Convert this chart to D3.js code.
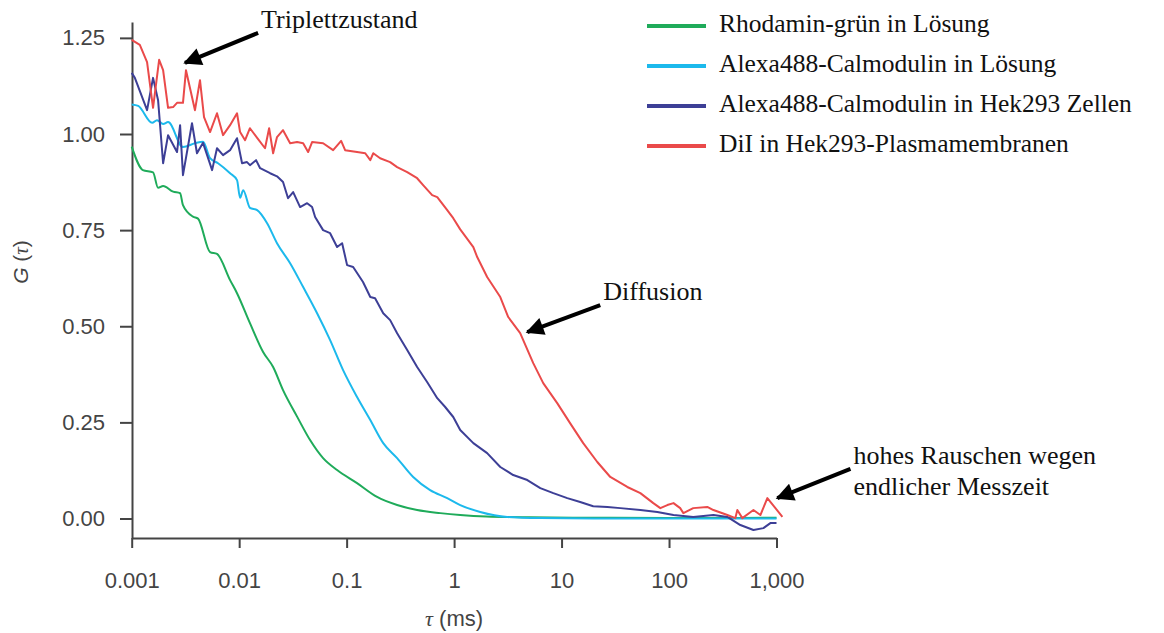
<!DOCTYPE html>
<html>
<head>
<meta charset="utf-8">
<script src="https://cdn.jsdelivr.net/npm/d3@7"></script>
<style>
  body { margin: 0; background: #fff; }
  svg { display: block; }
</style>
</head>
<body>
<svg id="chart" width="1164" height="633"></svg>
<script>
// Werte (tau in ms, G(tau))
const tauGruen = [0.001, 0.00127, 0.00158, 0.00176, 0.00196, 0.00243, 0.00282, 0.003, 0.00372, 0.00414, 0.00536, 0.00622, 0.00823, 0.00955, 0.0126, 0.0167, 0.0207, 0.0256, 0.0346, 0.0457, 0.0604, 0.0815, 0.125, 0.192, 0.295, 0.453, 0.743, 1.14, 2, 5, 20, 100, 1000];
const gGruen = [0.967, 0.906, 0.9, 0.86, 0.865, 0.85, 0.846, 0.815, 0.785, 0.78, 0.693, 0.688, 0.62, 0.586, 0.508, 0.433, 0.394, 0.334, 0.265, 0.204, 0.157, 0.126, 0.092, 0.056, 0.035, 0.022, 0.014, 0.009, 0.005, 0.003, 0.002, 0.001, 0.002];

const tauCyan = [0.001, 0.00115, 0.00155, 0.00172, 0.00196, 0.00218, 0.003, 0.00388, 0.00461, 0.00536, 0.00636, 0.00823, 0.00955, 0.0102, 0.0109, 0.0126, 0.0147, 0.0182, 0.0225, 0.0298, 0.0394, 0.0531, 0.0702, 0.0927, 0.125, 0.166, 0.219, 0.295, 0.416, 0.598, 0.863, 1.14, 1.75, 3.12, 6.33, 20, 100, 1000];
const gCyan = [1.077, 1.073, 1.029, 1.036, 1.026, 1.031, 0.966, 0.976, 0.98, 0.937, 0.924, 0.898, 0.88, 0.834, 0.854, 0.808, 0.802, 0.768, 0.716, 0.664, 0.602, 0.534, 0.464, 0.386, 0.316, 0.256, 0.196, 0.157, 0.108, 0.074, 0.053, 0.035, 0.017, 0.004, 0.001, 0.0, 0.0, 0.0];

const tauBlau = [0.001, 0.00107, 0.00139, 0.00158, 0.00176, 0.00196, 0.00218, 0.00264, 0.00282, 0.003, 0.00364, 0.00405, 0.00461, 0.0056, 0.00622, 0.00708, 0.00823, 0.00955, 0.01064, 0.01183, 0.0126, 0.01436, 0.01567, 0.0194, 0.0225, 0.0256, 0.0285, 0.0318, 0.0369, 0.0429, 0.0477, 0.0509, 0.0604, 0.0702, 0.0815, 0.0908, 0.101, 0.115, 0.142, 0.166, 0.184, 0.219, 0.254, 0.295, 0.366, 0.453, 0.561, 0.697, 0.826, 0.982, 1.14, 1.51, 2.03, 2.69, 3.55, 4.8, 6.34, 8.38, 11.3, 14.9, 19.7, 26.7, 35.2, 54.1, 77.8, 110, 168, 259, 349, 461, 610, 755, 877, 1000];
const gBlau = [1.159, 1.146, 1.062, 1.146, 1.088, 0.924, 0.997, 0.953, 1.023, 0.893, 1.028, 0.95, 0.977, 0.906, 0.963, 0.945, 0.958, 0.989, 0.924, 0.927, 0.919, 0.932, 0.911, 0.898, 0.89, 0.875, 0.833, 0.849, 0.81, 0.82, 0.81, 0.784, 0.75, 0.742, 0.706, 0.716, 0.659, 0.654, 0.615, 0.576, 0.573, 0.534, 0.516, 0.482, 0.438, 0.394, 0.355, 0.313, 0.29, 0.264, 0.23, 0.196, 0.17, 0.134, 0.113, 0.1, 0.079, 0.066, 0.053, 0.043, 0.032, 0.03, 0.027, 0.022, 0.017, 0.009, 0.004, 0.009, 0.004, -0.017, -0.03, -0.025, -0.012, -0.012];

const tauRot = [0.001, 0.00119, 0.00139, 0.00158, 0.0018, 0.00196, 0.00218, 0.00243, 0.00264, 0.003, 0.0032, 0.00388, 0.00432, 0.00471, 0.00536, 0.00622, 0.00708, 0.00823, 0.00955, 0.0102, 0.01135, 0.0126, 0.0147, 0.0174, 0.019, 0.0207, 0.0225, 0.0256, 0.0298, 0.0346, 0.0394, 0.0438, 0.0477, 0.0604, 0.0749, 0.0889, 0.0968, 0.125, 0.149, 0.166, 0.177, 0.205, 0.254, 0.295, 0.366, 0.453, 0.515, 0.625, 0.697, 0.863, 0.982, 1.14, 1.51, 1.64, 2.03, 2.69, 3.19, 4.12, 5.45, 6.75, 9.11, 12.0, 15.9, 21.5, 28.4, 40.9, 54.1, 71.4, 83.0, 96.4, 110, 127, 136, 168, 227, 259, 349, 414, 432, 481, 610, 708, 822, 977, 1135];
const gRot = [1.245, 1.232, 1.187, 1.068, 1.193, 1.166, 1.068, 1.07, 1.081, 1.081, 1.166, 1.062, 1.14, 1.044, 1.005, 1.054, 0.997, 1.023, 1.054, 1.005, 0.984, 1.015, 0.99, 0.963, 1.015, 0.95, 0.992, 1.01, 0.976, 0.979, 0.976, 0.953, 0.979, 0.976, 0.958, 0.982, 0.958, 0.953, 0.95, 0.932, 0.95, 0.937, 0.927, 0.914, 0.901, 0.885, 0.867, 0.841, 0.836, 0.802, 0.781, 0.752, 0.706, 0.68, 0.628, 0.576, 0.524, 0.482, 0.404, 0.352, 0.3, 0.248, 0.196, 0.147, 0.108, 0.082, 0.066, 0.04, 0.027, 0.035, 0.04, 0.027, 0.014, 0.027, 0.03, 0.022, 0.009, 0.001, 0.022, 0.001, 0.022, 0.009, 0.053, 0.027, 0.004];

const serienNamen = ["Rhodamin-grün in Lösung", "Alexa488-Calmodulin in Lösung", "Alexa488-Calmodulin in Hek293 Zellen", "DiI in Hek293-Plasmamembranen"];
const farben = ["#1fab5a", "#1cb9ec", "#3d3f96", "#ea4a4a"];

const xTicks = [0.001, 0.01, 0.1, 1, 10, 100, 1000];
const xTickLabels = ["0.001", "0.01", "0.1", "1", "10", "100", "1,000"];
const yTicks = [0, 0.25, 0.5, 0.75, 1.0, 1.25];
const yTickLabels = ["0.00", "0.25", "0.50", "0.75", "1.00", "1.25"];

// Anmerkungen: Pfeilspitze und -ende in Datenkoordinaten
const anmerkungen = [
  { zeilen: ["Triplettzustand"], spitze: [0.00313, 1.185], ende: [0.0150, 1.263] },
  { zeilen: ["Diffusion"], spitze: [4.8, 0.485], ende: [22.9, 0.555] },
  { zeilen: ["hohes Rauschen wegen", "endlicher Messzeit"], spitze: [1018, 0.053], ende: [4876, 0.129] }
];

const svg = d3.select("#chart");
const achsenFarbe = "#444";

const x = d3.scaleLog().domain([0.001, 1000]).range([131.7, 776.5]);
const y = d3.scaleLinear().domain([-0.0507, 1.2913]).range([538, 22]);

// Y-Achse
const yAxis = svg.append("g")
  .attr("transform", "translate(132,0)")
  .call(d3.axisLeft(y).tickValues(yTicks).tickFormat((d, i) => yTickLabels[i]).tickSize(12).tickSizeOuter(0).tickPadding(15));
yAxis.select(".domain").attr("stroke", achsenFarbe).attr("stroke-width", 2);
yAxis.selectAll(".tick line").attr("stroke", achsenFarbe).attr("stroke-width", 2);
yAxis.selectAll(".tick text")
  .attr("fill", achsenFarbe)
  .style("font-family", "'Liberation Sans', Arial, sans-serif")
  .style("font-size", "22px");

// X-Achse
const xAxis = svg.append("g")
  .attr("transform", "translate(0,538)")
  .call(d3.axisBottom(x).tickValues(xTicks).tickFormat((d, i) => xTickLabels[i]).tickSize(10).tickSizeOuter(0).tickPadding(24));
xAxis.select(".domain").attr("stroke", achsenFarbe).attr("stroke-width", 2);
xAxis.selectAll(".tick line").attr("stroke", achsenFarbe).attr("stroke-width", 2);
xAxis.selectAll(".tick text")
  .attr("fill", achsenFarbe)
  .style("font-family", "'Liberation Sans', Arial, sans-serif")
  .style("font-size", "22px");

// Achsentitel
const xTitel = svg.append("text")
  .attr("x", (x.range()[0] + x.range()[1]) / 2)
  .attr("y", 626)
  .attr("text-anchor", "middle")
  .attr("fill", achsenFarbe)
  .style("font-family", "'Liberation Sans', Arial, sans-serif")
  .style("font-size", "22px");
xTitel.append("tspan").style("font-style", "italic").style("font-family", "'Liberation Serif', serif").text("τ");
xTitel.append("tspan").text(" (ms)");

const yTitel = svg.append("text")
  .attr("transform", "translate(28,262) rotate(-90)")
  .attr("text-anchor", "middle")
  .attr("fill", achsenFarbe)
  .style("font-family", "'Liberation Sans', Arial, sans-serif")
  .style("font-size", "21px");
yTitel.append("tspan").style("font-style", "italic").text("G");
yTitel.append("tspan").text(" (");
yTitel.append("tspan").style("font-style", "italic").style("font-family", "'Liberation Serif', serif").text("τ");
yTitel.append("tspan").text(")");

// Kurven: glatte Kurven für die Lösungen, verrauschte Kurven gerade verbunden
const serien = [
  { werte: d3.zip(tauGruen, gGruen), glatt: true },
  { werte: d3.zip(tauCyan, gCyan), glatt: true },
  { werte: d3.zip(tauBlau, gBlau), glatt: false },
  { werte: d3.zip(tauRot, gRot), glatt: false }
];

const linieGlatt = d3.line().x(d => x(d[0])).y(d => y(d[1])).curve(d3.curveMonotoneX);
const linieGerade = d3.line().x(d => x(d[0])).y(d => y(d[1]));

svg.append("g")
  .selectAll("path")
  .data(serien)
  .join("path")
  .attr("d", s => (s.glatt ? linieGlatt : linieGerade)(s.werte))
  .attr("fill", "none")
  .attr("stroke", (d, i) => farben[i])
  .attr("stroke-width", 2)
  .attr("stroke-linejoin", "round");

// Legende
const legende = svg.append("g").attr("transform", "translate(647,26)");
serienNamen.forEach((name, i) => {
  const zeile = legende.append("g").attr("transform", `translate(0, ${i * 40})`);
  zeile.append("line")
    .attr("x1", 0).attr("x2", 59)
    .attr("stroke", farben[i])
    .attr("stroke-width", 4);
  zeile.append("text")
    .attr("x", 72)
    .attr("y", 6)
    .text(name)
    .style("font-family", "'Liberation Serif', 'Times New Roman', serif")
    .style("font-size", "25.5px")
    .attr("fill", "#111");
});

// Pfeile und Anmerkungen
svg.append("defs").append("marker")
  .attr("id", "pfeil")
  .attr("viewBox", "0 0 10 10")
  .attr("refX", 9)
  .attr("refY", 5)
  .attr("markerWidth", 6)
  .attr("markerHeight", 4.5)
  .attr("markerUnits", "strokeWidth")
  .attr("orient", "auto")
  .append("path")
  .attr("d", "M0,0 L10,5 L0,10 Z")
  .attr("fill", "#000");

anmerkungen.forEach(a => {
  const [sx, sy] = [x(a.spitze[0]), y(a.spitze[1])];
  const [ex, ey] = [x(a.ende[0]), y(a.ende[1])];
  svg.append("line")
    .attr("x1", ex).attr("y1", ey)
    .attr("x2", sx).attr("y2", sy)
    .attr("stroke", "#000")
    .attr("stroke-width", 4)
    .attr("marker-end", "url(#pfeil)");
  const t = svg.append("text")
    .attr("x", ex + 3)
    .attr("y", ey - 5)
    .style("font-family", "'Liberation Serif', 'Times New Roman', serif")
    .style("font-size", "26px")
    .attr("fill", "#111");
  a.zeilen.forEach((z, k) => {
    t.append("tspan").attr("x", ex + 3).attr("dy", k === 0 ? 0 : 31).text(z);
  });
});
</script>
</body>
</html>
